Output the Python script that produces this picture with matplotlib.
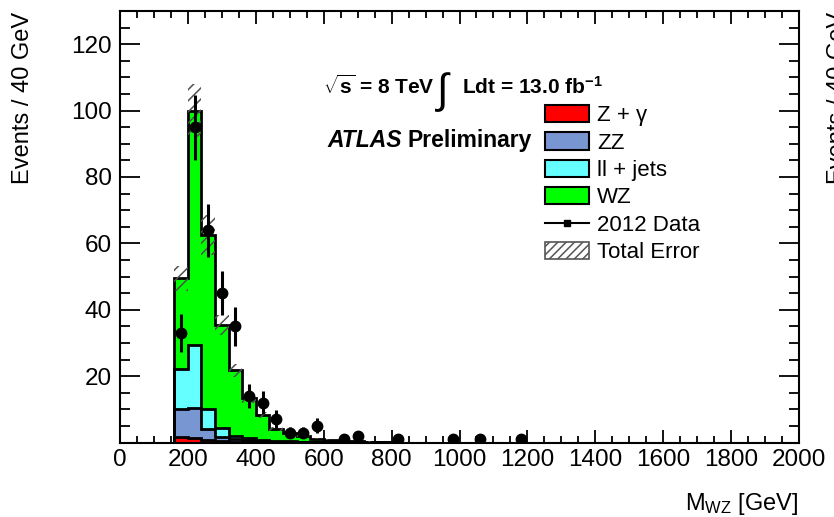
import numpy as np
import matplotlib
matplotlib.use("Agg")
import matplotlib.pyplot as plt
from matplotlib.patches import Patch
from matplotlib.lines import Line2D
from matplotlib.ticker import MultipleLocator

plt.rcParams["font.family"] = ["Liberation Sans", "DejaVu Sans"]
plt.rcParams["mathtext.fontset"] = "custom"
plt.rcParams["mathtext.rm"] = "Liberation Sans"
plt.rcParams["mathtext.bf"] = "Liberation Sans:bold"
plt.rcParams["mathtext.it"] = "Liberation Sans:italic"
plt.rcParams["hatch.linewidth"] = 1.1

# 40 GeV bins of the WZ invariant mass
bin_edges = [160, 200, 240, 280, 320, 360, 400, 440, 480, 520, 560, 600, 640, 680, 720, 760, 800]

# Expected events per bin for each process (stacked bottom to top)
zgamma = [1.8, 1.5, 0.7, 0.4, 0.2, 0.1, 0.05, 0.03, 0.02, 0.01, 0.0, 0.0, 0.0, 0.0, 0.0, 0.0]
zz = [8.4, 8.8, 3.5, 1.4, 1.0, 0.6, 0.35, 0.22, 0.15, 0.1, 0.08, 0.05, 0.04, 0.03, 0.02, 0.02]
lljets = [12.0, 19.0, 6.0, 2.7, 0.9, 0.6, 0.4, 0.25, 0.15, 0.1, 0.07, 0.05, 0.01, 0.02, 0.01, 0.0]
wz = [27.3, 70.7, 52.3, 31.0, 19.7, 12.1, 7.5, 3.7, 2.4, 1.7, 1.05, 0.7, 0.45, 0.3, 0.22, 0.18]

# Total systematic + statistical uncertainty on the summed prediction
total_error = [3.8, 8.0, 6.0, 3.0, 2.0, 1.5, 1.0, 0.6, 0.4, 0.3, 0.2, 0.15, 0.1, 0.08, 0.06, 0.05]

# 2012 data (bin centres with non-zero counts)
data_mass = [180, 220, 260, 300, 340, 380, 420, 460, 500, 540, 580, 660, 700, 820, 980, 1060, 1180]
data_events = [33, 95, 64, 45, 35, 14, 12, 7, 3, 3, 5, 1, 2, 1, 1, 1, 1]

process_labels = ["Z + \u03b3", "ZZ", "ll + jets", "WZ"]
process_colors = ["#ff0000", "#7896d2", "#66ffff", "#00ff00"]

W, H = 834, 517
fig = plt.figure(figsize=(W / 100, H / 100), dpi=100)
ax = fig.add_axes([120 / W, 1 - 442.5 / H, 679 / W, 431.5 / H])

edges = np.array(bin_edges, dtype=float)
layers = [np.array(v, dtype=float) for v in (zgamma, zz, lljets, wz)]
cumulative = np.cumsum(layers, axis=0)

# Draw the stack from the top layer down so lower layers sit in front
for top, color in zip(cumulative[::-1], process_colors[::-1]):
    ax.stairs(top, edges, fill=True, facecolor=color, edgecolor="none", zorder=2)
    ax.stairs(top, edges, baseline=0, fill=False, color="black", linewidth=2.0, zorder=3)

total = cumulative[-1]
err = np.array(total_error)
ax.stairs(total + err, edges, baseline=total - err, fill=True, facecolor="none",
          edgecolor="#505050", hatch="///", linewidth=0, zorder=4)

yerr = np.sqrt(np.array(data_events, dtype=float))
ax.errorbar(data_mass, data_events, yerr=yerr, fmt="o", color="black",
            markersize=7.5, elinewidth=2.2, capsize=0, zorder=6, clip_on=True)

ax.set_xlim(0, 2000)
ax.set_ylim(0, 130)
ax.xaxis.set_major_locator(MultipleLocator(200))
ax.xaxis.set_minor_locator(MultipleLocator(50))
ax.set_yticks([20, 40, 60, 80, 100, 120])
ax.yaxis.set_minor_locator(MultipleLocator(5))

ax.tick_params(axis="both", which="both", direction="in", top=True, right=True,
               width=1.3, labelsize=17.5, colors="black")
ax.tick_params(axis="x", which="major", length=9.5, pad=5)
ax.tick_params(axis="x", which="minor", length=4.7)
ax.tick_params(axis="y", which="major", length=14.5, pad=6)
ax.tick_params(axis="y", which="minor", length=7.2)
for s in ax.spines.values():
    s.set_linewidth(1.5)

def px(x, y):
    return x / W, 1 - y / H

fig.text(*px(23, 12), "Events / 40 GeV", rotation=90, ha="center", va="top", fontsize=17)
fig.text(*px(838, 12), "Events / 40 GeV", rotation=90, ha="center", va="top", fontsize=17)
fig.text(*px(799, 510), r"M$_{\rm WZ}$ [GeV]", ha="right", va="baseline", fontsize=17)

fig.text(*px(323, 94), r"$\sqrt{\mathbf{s}}$ = 8 TeV", ha="left", va="baseline",
         fontsize=15, fontweight="bold")
fig.text(*px(437, 103), "\u222b", ha="left", va="baseline", fontsize=30)
fig.text(*px(462, 94), r"Ldt = 13.0 fb$^{\mathbf{-1}}$", ha="left", va="baseline",
         fontsize=15, fontweight="bold")

# ATLAS label: bold italic experiment name followed by the bold status word
renderer = fig.canvas.get_renderer()
atlas = fig.text(*px(327, 147), "ATLAS", ha="left", va="baseline", fontsize=16.5,
                 fontweight="bold", fontstyle="italic")
atlas_right = atlas.get_window_extent(renderer).x1
fig.text(atlas_right / W + 6 / W, 1 - 147 / H, "Preliminary", ha="left", va="baseline",
         fontsize=16.5, fontweight="bold")

handles = [Patch(facecolor=c, edgecolor="black", linewidth=1.5) for c in process_colors]
handles.append(Line2D([], [], color="black", marker="s", markersize=5, linewidth=1.5))
handles.append(Patch(facecolor="white", edgecolor="#555555", hatch="////", linewidth=1.2))
labels = process_labels + ["2012 Data", "Total Error"]
fig.legend(handles, labels, loc="upper left", bbox_to_anchor=px(545, 105),
           frameon=False, fontsize=16, handlelength=2.0, handleheight=0.82,
           handletextpad=0.35, labelspacing=0.27, borderpad=0, borderaxespad=0)

fig.savefig("out.png", dpi=100)
